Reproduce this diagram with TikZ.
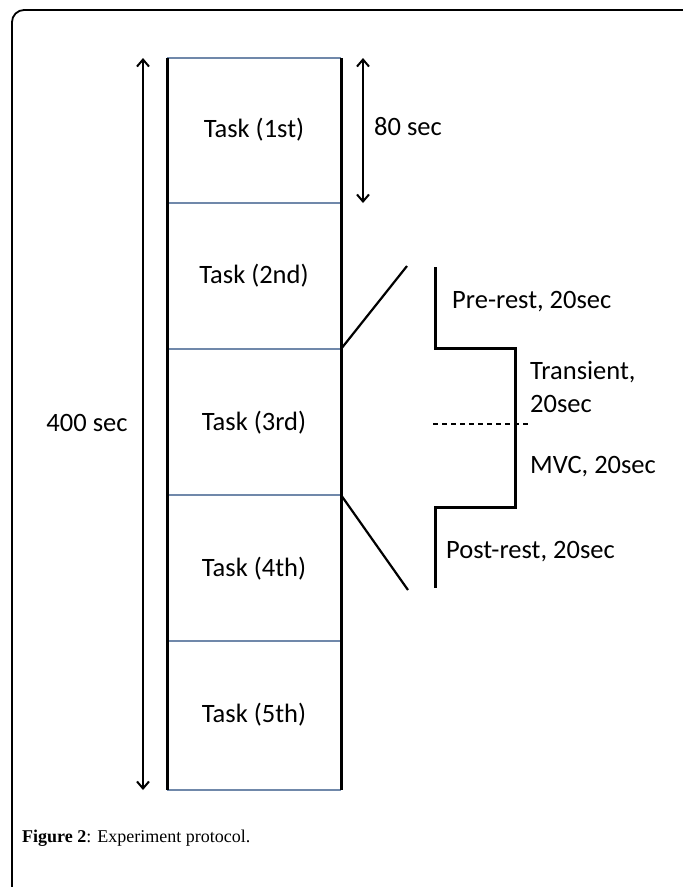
\documentclass[tikz,border=0pt]{standalone}
\usepackage{fontspec}
\setmainfont{Carlito}
\newfontfamily\capfont{Liberation Serif}
\usetikzlibrary{arrows.meta}
\definecolor{divblue}{HTML}{7088AA}
\begin{document}
\begin{tikzpicture}[x=1pt,y=-1pt,
  frame/.style={line width=1.8pt},
  divider/.style={draw=divblue,line width=1.4pt},
  colside/.style={line width=3pt},
  dimarrow/.style={line width=2.2pt,{Straight Barb[length=7pt,width=12pt,line width=2pt]}-{Straight Barb[length=7pt,width=12pt,line width=2pt]}},
  stepline/.style={line width=3pt},
  thinline/.style={line width=2.2pt},
  tasklabel/.style={font=\fontsize{26.5}{30}\selectfont},
  sidelabel/.style={font=\fontsize{26.5}{30}\selectfont,anchor=west,inner sep=0pt},
  every node/.style={inner sep=0pt}]
\useasboundingbox (0,0) rectangle (683,887);
% partial frame
\draw[frame,rounded corners=12pt] (12,887) -- (12,10) -- (683,10);
% column corners
\coordinate (c0l) at (167,58);  \coordinate (c0r) at (341,58);
\coordinate (c1l) at (167,203); \coordinate (c1r) at (341,203);
\coordinate (c2l) at (167,349); \coordinate (c2r) at (341,349);
\coordinate (c3l) at (167,495); \coordinate (c3r) at (341,495);
\coordinate (c4l) at (167,641); \coordinate (c4r) at (341,641);
\coordinate (c5l) at (167,790); \coordinate (c5r) at (341,790);
\foreach \i in {0,...,5} {\draw[divider] (c\i l) -- (c\i r);}
\draw[colside] (c0l) -- (c5l);
\draw[colside] (c0r) -- (c5r);
% task labels
\node[tasklabel] (t1) at (254,130) {Task (1st)};
\node[tasklabel] (t2) at (254,276) {Task (2nd)};
\node[tasklabel] (t3) at (254,423) {Task (3rd)};
\node[tasklabel] (t4) at (254,569) {Task (4th)};
\node[tasklabel] (t5) at (254,715) {Task (5th)};
% 400 sec arrow
\coordinate (la) at (143,58);
\coordinate (lb) at (143,790);
\draw[dimarrow] (la) -- (lb);
\node[tasklabel] (l400) at (87,423) {400 sec};
% 80 sec arrow
\coordinate (sa) at (363,58);
\coordinate (sb) at (363,203);
\draw[dimarrow] (sa) -- (sb);
\node[sidelabel] (l80) at (374,127) {80 sec};
% zoom lines
\coordinate (zt) at (407,266);
\coordinate (zb) at (408,590);
\draw[thinline] (c2r) -- (zt);
\draw[thinline] (c3r) -- (zb);
% step profile
\coordinate (p0) at (435,267);
\coordinate (p1) at (435,348);
\coordinate (p2) at (515,348);
\coordinate (p3) at (515,507);
\coordinate (p4) at (435,507);
\coordinate (p5) at (435,588);
\draw[stepline] (p0) -- (p1) -- (p2) -- (p3) -- (p4) -- (p5);
\coordinate (d0) at (433,424);
\coordinate (d1) at (530,424);
\draw[line width=1.6pt,dash pattern=on 5pt off 4pt] (d0) -- (d1);
\node[sidelabel] (pre) at (452,302) {Pre-rest, 20sec};
\node[sidelabel] (tr1) at (530,372) {Transient,};
\node[sidelabel] (tr2) at (530,404) {20sec};
\node[sidelabel] (mvc) at (530,467) {MVC, 20sec};
\node[sidelabel] (post) at (446,552) {Post-rest, 20sec};
% caption
\node[anchor=west,font=\capfont\fontsize{18}{21}\selectfont] (cap) at (22,838) {\textbf{Figure 2}: Experiment protocol.};
\end{tikzpicture}
\end{document}
